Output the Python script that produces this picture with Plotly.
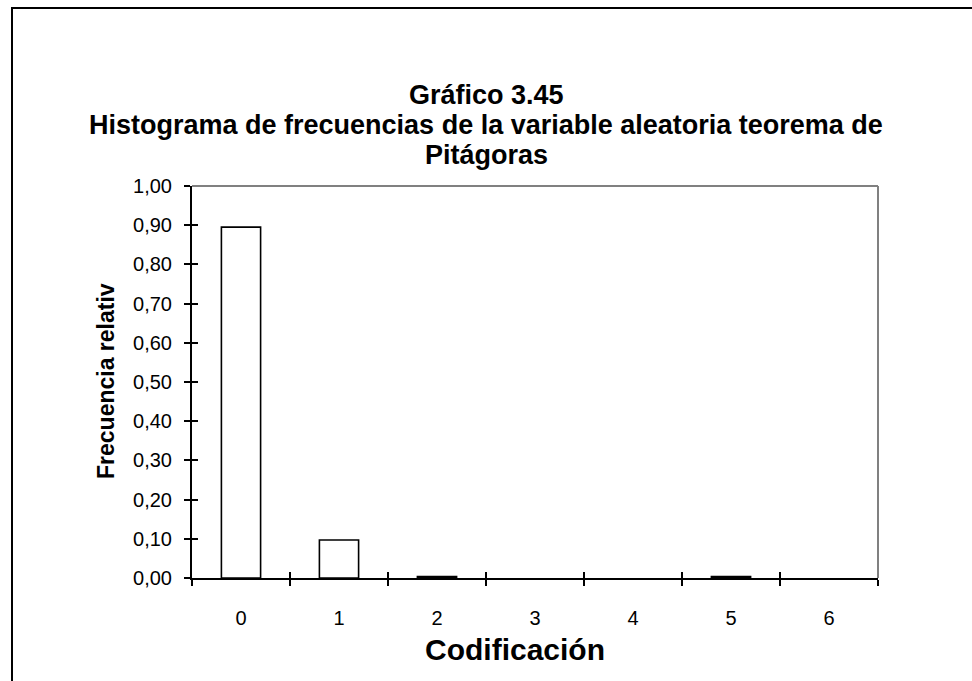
import plotly.graph_objects as go

# Codes of the random variable and their relative frequencies
categories = ["0", "1", "2", "3", "4", "5", "6"]
rel_freq = [0.895, 0.097, 0.004, 0.0, 0.0, 0.004, 0.0]
y_tick_vals = [0.0, 0.1, 0.2, 0.3, 0.4, 0.5, 0.6, 0.7, 0.8, 0.9, 1.0]
y_tick_text = ["0,00", "0,10", "0,20", "0,30", "0,40", "0,50",
               "0,60", "0,70", "0,80", "0,90", "1,00"]

FONT = "Arial, Liberation Sans, sans-serif"
W, H = 972, 681
L, R, T, B = 192, 94, 186, 103
PW, PH = W - L - R, H - T - B

def px_x(px):
    return (px - L) / PW

def px_y(py):
    return (H - B - py) / PH

fig = go.Figure()
# empty bars get no outline so nothing is drawn for them
fig.add_trace(go.Bar(
    x=categories, y=rel_freq,
    marker=dict(color="white",
                line=dict(color="black",
                          width=[1.6 if v > 0 else 0 for v in rel_freq])),
    width=0.4,
    showlegend=False, hoverinfo="x+y",
))
# helper trace so the overlaid tick axes are rendered
fig.add_trace(go.Scatter(x=[], y=[], xaxis="x2", yaxis="y2",
                         showlegend=False, hoverinfo="skip"))

n = len(categories)
bounds = [i - 0.5 for i in range(n + 1)]

fig.update_layout(
    width=W, height=H,
    margin=dict(l=L, r=R, t=T, b=B),
    paper_bgcolor="white", plot_bgcolor="white",
    font=dict(family=FONT, size=20, color="black"),
    xaxis=dict(
        type="category", range=[-0.5, n - 0.5],
        tickson="boundaries", ticks="outside", ticklen=6, tickwidth=2,
        tickcolor="black", showline=True, linecolor="black", linewidth=2,
        showgrid=False, zeroline=False, ticklabelstandoff=21,
        tickfont=dict(size=20),
    ),
    yaxis=dict(
        range=[0, 1.0], tickvals=y_tick_vals, ticktext=y_tick_text,
        ticks="outside", ticklen=6, tickwidth=2, tickcolor="black",
        showline=True, linecolor="black", linewidth=2,
        showgrid=False, zeroline=False, ticklabelstandoff=8,
        tickfont=dict(size=20),
    ),
    # inner half of the crossing tick marks
    xaxis2=dict(overlaying="x", side="bottom", anchor="y", range=[-0.5, n - 0.5],
                tickvals=bounds, ticks="inside", ticklen=6, tickwidth=2,
                tickcolor="black", showticklabels=False, showline=False,
                showgrid=False, zeroline=False),
    yaxis2=dict(overlaying="y", side="left", anchor="x", range=[0, 1.0],
                tickvals=y_tick_vals, ticks="inside", ticklen=6, tickwidth=2,
                tickcolor="black", showticklabels=False, showline=False,
                showgrid=False, zeroline=False),
)

# gray frame on the top and right edges of the plot area
fig.add_shape(type="line", xref="paper", yref="paper", x0=0, x1=1, y0=1, y1=1,
              line=dict(color="#808080", width=2), layer="below")
fig.add_shape(type="line", xref="paper", yref="paper", x0=1, x1=1, y0=0, y1=1,
              line=dict(color="#808080", width=2), layer="below")

# Title block
title_lines = [
    "Gráfico 3.45",
    "Histograma de frecuencias de la variable aleatoria teorema de",
    "Pitágoras",
]
for i, line in enumerate(title_lines):
    fig.add_annotation(
        text=f"<b>{line}</b>", xref="paper", yref="paper",
        x=px_x(486), y=px_y(95 + 30 * i), xanchor="center", yanchor="middle",
        showarrow=False, font=dict(family=FONT, size=27, color="black"),
    )

# Axis titles
fig.add_annotation(
    text="<b>Codificación</b>", xref="paper", yref="paper",
    x=px_x(515), y=px_y(649), xanchor="center", yanchor="middle",
    showarrow=False, font=dict(family=FONT, size=30, color="black"),
)
fig.add_annotation(
    text="<b>Frecuencia relativ</b>", xref="paper", yref="paper",
    x=px_x(106), y=px_y(381), xanchor="center", yanchor="middle",
    textangle=-90, showarrow=False,
    font=dict(family=FONT, size=23, color="black"),
)

# Chart frame around the whole figure
fig.add_shape(
    type="rect", xref="paper", yref="paper",
    x0=px_x(12), x1=px_x(990), y0=px_y(700), y1=px_y(8),
    line=dict(color="black", width=2), fillcolor="rgba(0,0,0,0)", layer="below",
)

fig.write_html("out.html")
